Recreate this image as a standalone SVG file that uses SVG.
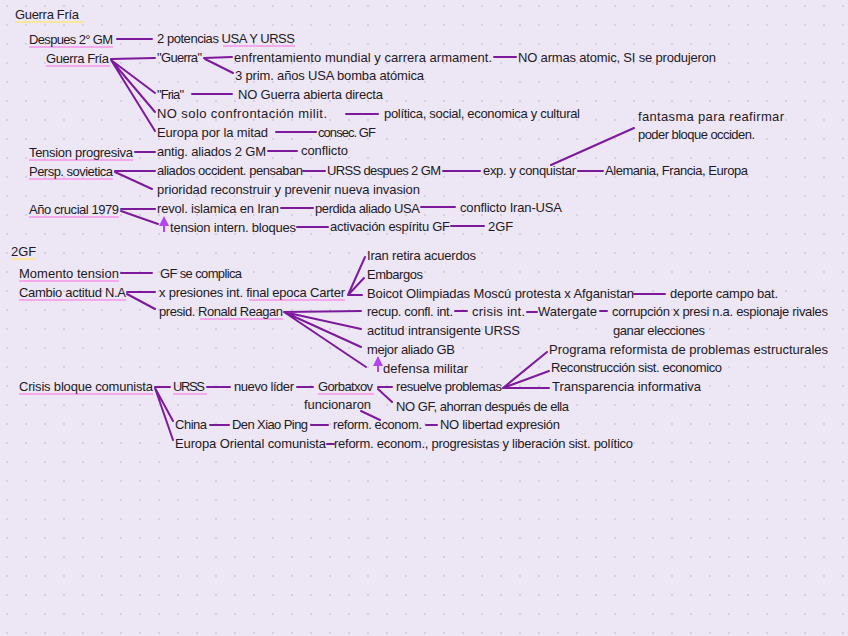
<svg xmlns="http://www.w3.org/2000/svg" width="848" height="636" viewBox="0 0 848 636">
<style>
.t{font-family:"Liberation Sans","DejaVu Sans",sans-serif;font-size:13px;fill:#1e1a24}
.c{stroke:#7d1a9c;stroke-width:2;fill:none;stroke-linecap:round}
.u{stroke:#f6a8ec;stroke-width:2;fill:none}
.y{stroke:#fbe79b;stroke-width:2;fill:none}
.a{stroke:#b046f2;stroke-width:2;fill:none}
</style>
<defs>
<pattern id="dots" width="19" height="19" patternUnits="userSpaceOnUse" x="6" y="5">
<circle cx="1" cy="1" r="0.9" fill="#cbc3d8"/>
</pattern>
<marker id="ah" viewBox="0 0 10 10" refX="5" refY="5" markerWidth="5" markerHeight="5" orient="auto">
<path d="M0,0 L10,5 L0,10 z" fill="#b046f2"/>
</marker>
</defs>
<rect width="848" height="636" fill="#ede6f5"/>
<rect width="848" height="636" fill="url(#dots)"/>

<g id="underlines">
<path class="y" d="M15,22H83M12,259H36"/>
<path class="u" d="M29,47H113M223,46H295M46,66H110M29,160H133M29,179H113M29,217H119M19,281H119M19,300H126M249,300H345M200,319H283M19,394H153M173,394H207M318,394H374"/>
</g>

<g id="connectors">
<path class="c" d="M117,39H152"/>
<path class="c" d="M111,59L155,58M111,60L155,93M111,60L155,112M111,60L155,131"/>
<path class="c" d="M204,58L232,57M205,59L233,73"/>
<path class="c" d="M494,57H516"/>
<path class="c" d="M192,94H232"/>
<path class="c" d="M346,114H378"/>
<path class="c" d="M276,132H316"/>
<path class="c" d="M135,152H155M268,151H297"/>
<path class="c" d="M115,171H155M115,172L152,189"/>
<path class="c" d="M303,171H325M443,171H480M578,171H603M551,165L634,128"/>
<path class="c" d="M121,209H155M121,211L158,224"/>
<path class="c" d="M281,208H313M421,207H455"/>
<path class="c" d="M297,227H328M451,226H484"/>
<path class="c" d="M121,273H152"/>
<path class="c" d="M127,292H155M127,294L155,309"/>
<path class="c" d="M348,295L365,257M348,295L364,278M349,295H362"/>
<path class="c" d="M634,294H665"/>
<path class="c" d="M284,312L361,311M284,312L361,329M284,312L361,347M284,312L366,367"/>
<path class="c" d="M455,311H467M527,312H537M600,311H607"/>
<path class="c" d="M155,387H170M155,388L173,421M155,388L173,440"/>
<path class="c" d="M207,387H230M297,387H313M378,387H392M378,389L392,402"/>
<path class="c" d="M503,388L547,352M503,388L549,371M503,388H549"/>
<path class="c" d="M361,411L380,420"/>
<path class="c" d="M210,425H229M311,425H328M426,425H437M327,444H334"/>
<path class="a" d="M164,232V221" marker-end="url(#ah)"/>
<path class="a" d="M378,372V361" marker-end="url(#ah)"/>
</g>

<g id="t1"><text class="t" x="15" y="19" textLength="64" lengthAdjust="spacing">Guerra Fría</text></g>
<g id="n1"><text class="t" x="29" y="44" textLength="84" lengthAdjust="spacing">Despues 2° GM</text></g>
<g id="n2"><text class="t" x="157" y="43" textLength="138" lengthAdjust="spacing">2 potencias USA Y URSS</text></g>
<g id="n3"><text class="t" x="46" y="63" textLength="63" lengthAdjust="spacing">Guerra Fría</text></g>
<g id="n4"><text class="t" x="157" y="62" textLength="45" lengthAdjust="spacing">"Guerra"</text></g>
<g id="n5"><text class="t" x="234" y="62" textLength="258" lengthAdjust="spacing">enfrentamiento mundial y carrera armament.</text></g>
<g id="n6"><text class="t" x="518" y="62" textLength="198" lengthAdjust="spacing">NO armas atomic, SI se produjeron</text></g>
<g id="n7"><text class="t" x="235" y="80" textLength="189" lengthAdjust="spacing">3 prim. años USA bomba atómica</text></g>
<g id="n8"><text class="t" x="157" y="99" textLength="27" lengthAdjust="spacing">"Fria"</text></g>
<g id="n9"><text class="t" x="238" y="99" textLength="145" lengthAdjust="spacing">NO Guerra abierta directa</text></g>
<g id="n10"><text class="t" x="157" y="118" textLength="170" lengthAdjust="spacing">NO solo confrontación milit.</text></g>
<g id="n11"><text class="t" x="384" y="118" textLength="196" lengthAdjust="spacing">política, social, economica y cultural</text></g>
<g id="n12"><text class="t" x="157" y="137" textLength="111" lengthAdjust="spacing">Europa por la mitad</text></g>
<g id="n13"><text class="t" x="318" y="137" textLength="58" lengthAdjust="spacing">consec. GF</text></g>
<g id="n14"><text class="t" x="29" y="157" textLength="104" lengthAdjust="spacing">Tension progresiva</text></g>
<g id="n15"><text class="t" x="157" y="156" textLength="109" lengthAdjust="spacing">antig. aliados 2 GM</text></g>
<g id="n16"><text class="t" x="301" y="155" textLength="47" lengthAdjust="spacing">conflicto</text></g>
<g id="n17"><text class="t" x="29" y="176" textLength="84" lengthAdjust="spacing">Persp. sovietica</text></g>
<g id="n18"><text class="t" x="157" y="175" textLength="146" lengthAdjust="spacing">aliados occident. pensaban</text></g>
<g id="n19"><text class="t" x="327" y="175" textLength="114" lengthAdjust="spacing">URSS despues 2 GM</text></g>
<g id="n20"><text class="t" x="483" y="175" textLength="93" lengthAdjust="spacing">exp. y conquistar</text></g>
<g id="n21"><text class="t" x="605" y="175" textLength="143" lengthAdjust="spacing">Alemania, Francia, Europa</text></g>
<g id="n22"><text class="t" x="638" y="121" textLength="146" lengthAdjust="spacing">fantasma para reafirmar</text><text class="t" x="638" y="139" textLength="117" lengthAdjust="spacing">poder bloque occiden.</text></g>
<g id="n23"><text class="t" x="157" y="194" textLength="263" lengthAdjust="spacing">prioridad reconstruir y prevenir nueva invasion</text></g>
<g id="n24"><text class="t" x="29" y="214" textLength="90" lengthAdjust="spacing">Año crucial 1979</text></g>
<g id="n25"><text class="t" x="157" y="213" textLength="122" lengthAdjust="spacing">revol. islamica en Iran</text></g>
<g id="n26"><text class="t" x="315" y="213" textLength="105" lengthAdjust="spacing">perdida aliado USA</text></g>
<g id="n27"><text class="t" x="460" y="212" textLength="102" lengthAdjust="spacing">conflicto Iran-USA</text></g>
<g id="n28"><text class="t" x="170" y="232" textLength="126" lengthAdjust="spacing">tension intern. bloques</text></g>
<g id="n29"><text class="t" x="330" y="231" textLength="120" lengthAdjust="spacing">activación espíritu GF</text></g>
<g id="n30"><text class="t" x="488" y="231">2GF</text></g>

<g id="t2"><text class="t" x="11" y="256">2GF</text></g>
<g id="m1"><text class="t" x="19" y="278" textLength="100" lengthAdjust="spacing">Momento tension</text></g>
<g id="m2"><text class="t" x="160" y="278" textLength="82" lengthAdjust="spacing">GF se complica</text></g>
<g id="m3"><text class="t" x="19" y="297" textLength="107" lengthAdjust="spacing">Cambio actitud N.A</text></g>
<g id="m4"><text class="t" x="159" y="297" textLength="186" lengthAdjust="spacing">x presiones int. final epoca Carter</text></g>
<g id="m5"><text class="t" x="159" y="316" textLength="124" lengthAdjust="spacing">presid. Ronald Reagan</text></g>
<g id="m6"><text class="t" x="367" y="260" textLength="109" lengthAdjust="spacing">Iran retira acuerdos</text></g>
<g id="m7"><text class="t" x="367" y="279" textLength="56" lengthAdjust="spacing">Embargos</text></g>
<g id="m8"><text class="t" x="367" y="298" textLength="267" lengthAdjust="spacing">Boicot Olimpiadas Moscú protesta x Afganistan</text></g>
<g id="m9"><text class="t" x="670" y="298" textLength="108" lengthAdjust="spacing">deporte campo bat.</text></g>
<g id="m10"><text class="t" x="367" y="316" textLength="86" lengthAdjust="spacing">recup. confl. int.</text></g>
<g id="m11"><text class="t" x="472" y="316" textLength="53" lengthAdjust="spacing">crisis int.</text></g>
<g id="m12"><text class="t" x="538" y="316" textLength="59" lengthAdjust="spacing">Watergate</text></g>
<g id="m13"><text class="t" x="612" y="316" textLength="216" lengthAdjust="spacing">corrupción x presi n.a. espionaje rivales</text><text class="t" x="613" y="335" textLength="92" lengthAdjust="spacing">ganar elecciones</text></g>
<g id="m14"><text class="t" x="367" y="335" textLength="153" lengthAdjust="spacing">actitud intransigente URSS</text></g>
<g id="m15"><text class="t" x="367" y="354" textLength="88" lengthAdjust="spacing">mejor aliado GB</text></g>
<g id="m16"><text class="t" x="383" y="373" textLength="85" lengthAdjust="spacing">defensa militar</text></g>
<g id="m17"><text class="t" x="549" y="354" textLength="279" lengthAdjust="spacing">Programa reformista de problemas estructurales</text></g>
<g id="m18"><text class="t" x="551" y="372" textLength="171" lengthAdjust="spacing">Reconstrucción sist. economico</text></g>
<g id="m19"><text class="t" x="552" y="391" textLength="149" lengthAdjust="spacing">Transparencia informativa</text></g>
<g id="m20"><text class="t" x="19" y="391" textLength="134" lengthAdjust="spacing">Crisis bloque comunista</text></g>
<g id="m21"><text class="t" x="173" y="391" textLength="32" lengthAdjust="spacing">URSS</text></g>
<g id="m22"><text class="t" x="234" y="391" textLength="60" lengthAdjust="spacing">nuevo líder</text></g>
<g id="m23"><text class="t" x="318" y="391" textLength="55" lengthAdjust="spacing">Gorbatxov</text></g>
<g id="m24"><text class="t" x="396" y="391" textLength="106" lengthAdjust="spacing">resuelve problemas</text></g>
<g id="m25"><text class="t" x="396" y="411" textLength="173" lengthAdjust="spacing">NO GF, ahorran después de ella</text></g>
<g id="m26"><text class="t" x="304" y="409" textLength="67" lengthAdjust="spacing">funcionaron</text></g>
<g id="m27"><text class="t" x="175" y="429" textLength="32" lengthAdjust="spacing">China</text></g>
<g id="m28"><text class="t" x="232" y="429" textLength="76" lengthAdjust="spacing">Den Xiao Ping</text></g>
<g id="m29"><text class="t" x="333" y="429" textLength="89" lengthAdjust="spacing">reform. econom.</text></g>
<g id="m30"><text class="t" x="440" y="429" textLength="120" lengthAdjust="spacing">NO libertad expresión</text></g>
<g id="m31"><text class="t" x="175" y="448" textLength="151" lengthAdjust="spacing">Europa Oriental comunista</text></g>
<g id="m32"><text class="t" x="334" y="448" textLength="299" lengthAdjust="spacing">reform. econom., progresistas y liberación sist. político</text></g>
</svg>
